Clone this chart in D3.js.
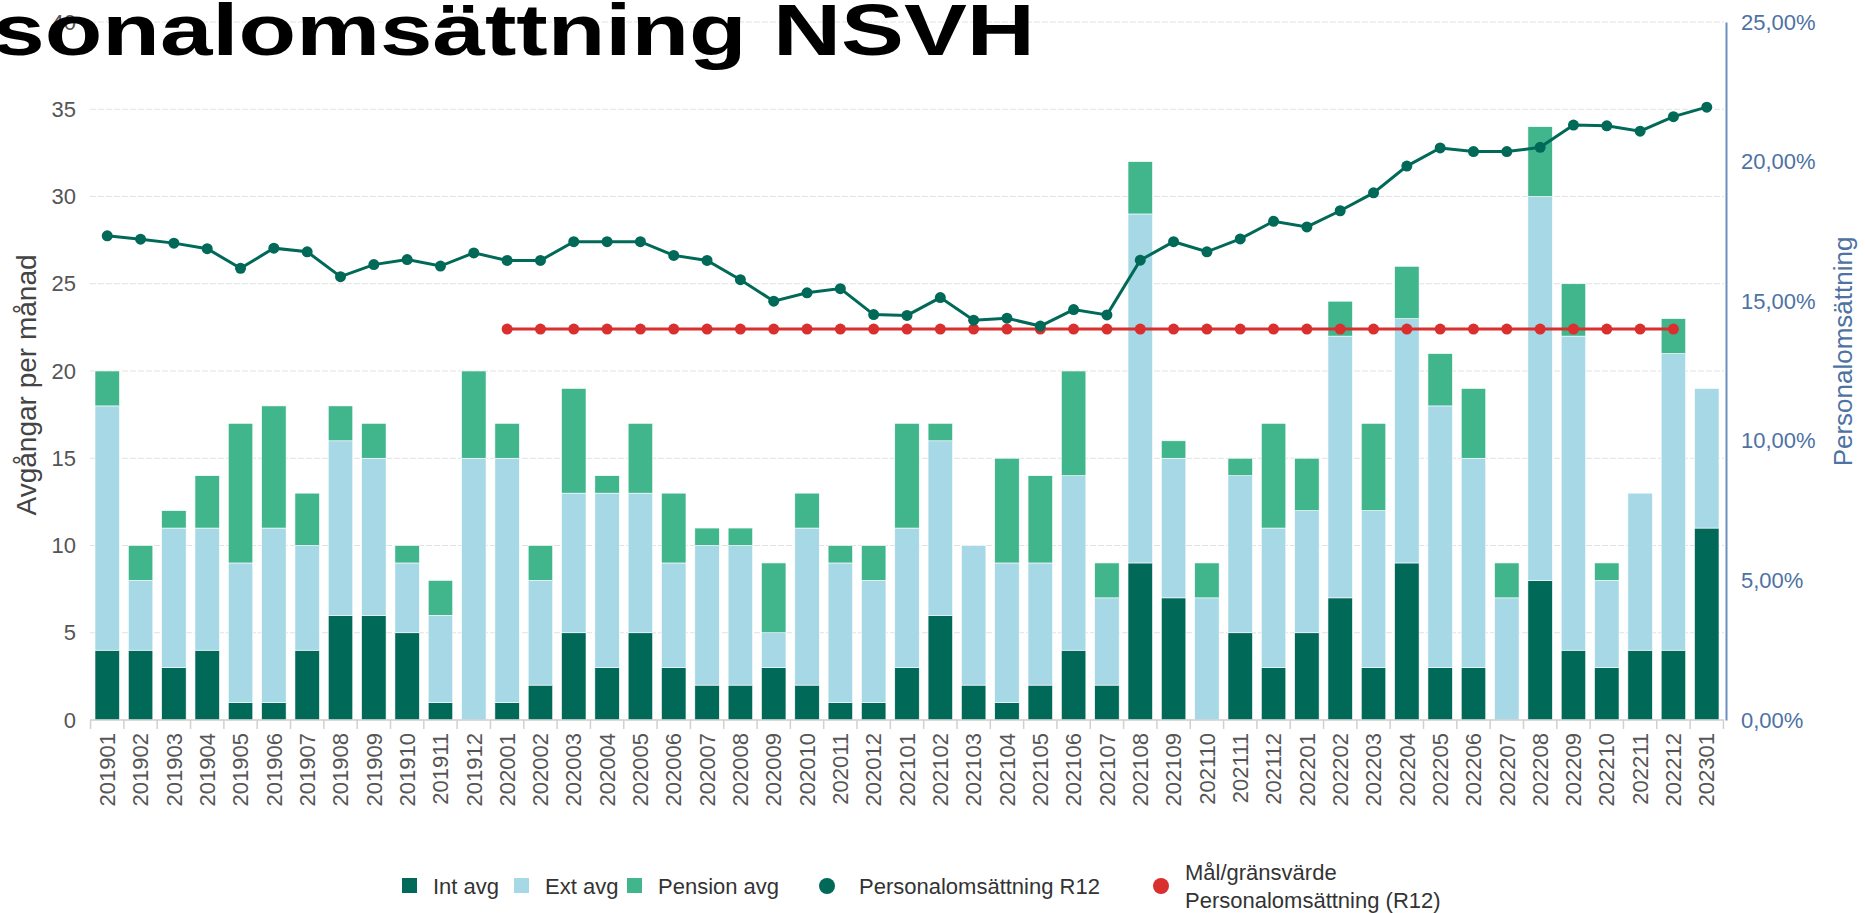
<!DOCTYPE html>
<html>
<head>
<meta charset="utf-8">
<title>Personalomsättning NSVH</title>
<style>
body { margin: 0; background: #fff; overflow: hidden; }
svg { display: block; font-family: "Liberation Sans", Arial, sans-serif; }
.grid line { stroke: #e2e2e2; stroke-dasharray: 6,2; }
</style>
</head>
<body>
<svg width="1865" height="913"></svg>
<script src="https://d3js.org/d3.v7.min.js"></script>
<script>
// data
var months = ["201901","201902","201903","201904","201905","201906","201907","201908","201909","201910","201911","201912",
  "202001","202002","202003","202004","202005","202006","202007","202008","202009","202010","202011","202012",
  "202101","202102","202103","202104","202105","202106","202107","202108","202109","202110","202111","202112",
  "202201","202202","202203","202204","202205","202206","202207","202208","202209","202210","202211","202212",
  "202301"];
var intAvg     = [4,4,3,4,1,1,4,6,6,5,1,0, 1,2,5,3,5,3,2,2,3,2,1,1, 3,6,2,1,2,4,2,9,7,0,5,3, 5,7,3,9,3,3,0,8,4,3,4,4, 11];
var extAvg     = [14,4,8,7,8,10,6,10,9,4,5,15, 14,6,8,10,8,6,8,8,2,9,8,7, 8,10,8,8,7,10,5,20,8,7,9,8, 7,15,9,14,15,12,7,22,18,5,9,17, 8];
var pensionAvg = [2,2,1,3,8,7,3,2,2,1,2,5, 2,2,6,1,4,4,1,1,4,2,1,2, 6,1,0,6,5,6,2,3,1,2,1,6, 3,2,5,3,3,4,2,4,3,1,0,2, 0];
var r12 = [17.34,17.22,17.08,16.88,16.18,16.90,16.77,15.88,16.31,16.49,16.26,16.73,
  16.46,16.46,17.13,17.13,17.13,16.64,16.46,15.77,15.00,15.30,15.45,14.52,
  14.49,15.13,14.32,14.39,14.11,14.70,14.51,16.47,17.13,16.77,17.23,17.86,
  17.66,18.24,18.88,19.84,20.49,20.36,20.36,20.51,21.31,21.28,21.09,21.61,
  21.95];
var target = [null,null,null,null,null,null,null,null,null,null,null,null,
  14,14,14,14,14,14,14,14,14,14,14,14,
  14,14,14,14,14,14,14,14,14,14,14,14,
  14,14,14,14,14,14,14,14,14,14,14,14,
  null];
var leftTicks = [0,5,10,15,20,25,30,35,40];
var rightTicks = [0,5,10,15,20,25];
var keys = ["int","ext","pension"];
var keyLabels = ["Int avg","Ext avg","Pension avg"];

var svg = d3.select("svg");
var plotLeft = 90, plotRight = 1724, plotTop = 22, plotBottom = 720;

var x = d3.scaleBand().domain(months).range([plotLeft, plotRight])
    .paddingInner(0.265).paddingOuter(0.15);
var y = d3.scaleLinear().domain([0, 40]).range([plotBottom, plotTop]);
var y2 = d3.scaleLinear().domain([0, 25]).range([plotBottom, plotTop]);
var color = d3.scaleOrdinal().domain(keys).range(["#006958", "#a6d8e6", "#41b68d"]);

var rows = months.map(function(m, i) {
  return {month: m, int: intAvg[i], ext: extAvg[i], pension: pensionAvg[i]};
});

// gridlines
svg.append("g").attr("class", "grid")
  .selectAll("line").data(leftTicks).enter().append("line")
    .attr("x1", plotLeft).attr("x2", plotRight)
    .attr("y1", function(d) { return y(d); })
    .attr("y2", function(d) { return y(d); });

// stacked bars
svg.append("g").selectAll("g")
  .data(d3.stack().keys(keys)(rows))
  .enter().append("g")
    .attr("fill", function(d) { return color(d.key); })
  .selectAll("rect").data(function(d) { return d; })
  .enter().append("rect")
    .attr("x", function(d) { return x(d.data.month); })
    .attr("y", function(d) { return y(d[1]); })
    .attr("height", function(d) { return y(d[0]) - y(d[1]); })
    .attr("width", x.bandwidth())
    .attr("stroke", "#fff").attr("stroke-width", 0.6);

// x axis
var gap = (x.step() - x.bandwidth()) / 2;
var lastEdge = x(months[months.length - 1]) + x.bandwidth() + gap;
svg.append("line")
  .attr("x1", plotLeft).attr("x2", plotRight).attr("y1", plotBottom).attr("y2", plotBottom)
  .attr("stroke", "#d0d0d0").attr("stroke-width", 1.5);
svg.append("g").selectAll("line")
  .data(months.concat(["end"])).enter().append("line")
    .attr("x1", function(d) { return d === "end" ? lastEdge : x(d) - gap; })
    .attr("x2", function(d) { return d === "end" ? lastEdge : x(d) - gap; })
    .attr("y1", plotBottom).attr("y2", plotBottom + 9)
    .attr("stroke", "#d0d0d0").attr("stroke-width", 1.5);

var xAxis = svg.append("g")
  .attr("transform", "translate(0," + plotBottom + ")")
  .call(d3.axisBottom(x).tickSize(0));
xAxis.select(".domain").remove();
xAxis.selectAll("text")
  .attr("transform", "rotate(-90)")
  .attr("x", -13).attr("y", 0).attr("dy", "0.35em")
  .style("text-anchor", "end")
  .attr("font-size", 22).attr("fill", "#555");

// left axis
var yAxis = svg.append("g")
  .attr("transform", "translate(" + plotLeft + ",0)")
  .call(d3.axisLeft(y).tickValues(leftTicks).tickSize(0).tickPadding(14));
yAxis.select(".domain").remove();
yAxis.selectAll("text").attr("font-size", 22).attr("fill", "#555");

svg.append("text")
  .attr("transform", "translate(26," + y(19.2) + ") rotate(-90)")
  .attr("text-anchor", "middle").attr("dy", "0.35em")
  .attr("font-size", 28).attr("fill", "#444")
  .text("Avgångar per månad");

// right axis
var y2Axis = svg.append("g")
  .attr("transform", "translate(1726,0)")
  .call(d3.axisRight(y2).tickValues(rightTicks).tickSize(0).tickSizeOuter(0).tickPadding(15)
    .tickFormat(function(d) { return d.toFixed(2).replace(".", ",") + "%"; }));
y2Axis.select(".domain").attr("stroke", "#6d8fbd").attr("stroke-width", 2);
y2Axis.selectAll("text").attr("font-size", 22).attr("fill", "#4d72a3");

svg.append("text")
  .attr("transform", "translate(1843," + y2(13.2) + ") rotate(-90)")
  .attr("text-anchor", "middle").attr("dy", "0.35em")
  .attr("font-size", 26).attr("fill", "#4d72a3")
  .text("Personalomsättning");

// lines
var cx = function(i) { return x(months[i]) + x.bandwidth() / 2; };

var line = d3.line()
  .defined(function(d) { return d != null; })
  .x(function(d, i) { return cx(i); })
  .y(function(d) { return y2(d); });

svg.append("path").datum(target)
  .attr("fill", "none").attr("stroke", "#d92f2f").attr("stroke-width", 3)
  .attr("d", line);
svg.append("g").selectAll("circle")
  .data(target.map(function(v, i) { return {v: v, i: i}; }).filter(function(d) { return d.v != null; }))
  .enter().append("circle")
    .attr("cx", function(d) { return cx(d.i); })
    .attr("cy", function(d) { return y2(d.v); })
    .attr("r", 5.5).attr("fill", "#d92f2f");

svg.append("path").datum(r12)
  .attr("fill", "none").attr("stroke", "#006958").attr("stroke-width", 3)
  .attr("d", line);
svg.append("g").selectAll("circle")
  .data(r12).enter().append("circle")
    .attr("cx", function(d, i) { return cx(i); })
    .attr("cy", function(d) { return y2(d); })
    .attr("r", 5.5).attr("fill", "#006958");

// legend (symbol left edges)
var legend = svg.append("g").attr("font-size", 22).attr("fill", "#333");
var ly = 886;
var legendX = [402, 514, 627, 819, 1153];
keys.forEach(function(k, i) {
  legend.append("rect").attr("x", legendX[i]).attr("y", ly - 8).attr("width", 15).attr("height", 15)
    .attr("fill", color(k));
  legend.append("text").attr("x", legendX[i] + 31).attr("y", ly).attr("dy", "0.35em").text(keyLabels[i]);
});
legend.append("circle").attr("cx", legendX[3] + 8).attr("cy", ly).attr("r", 8).attr("fill", "#006958");
legend.append("text").attr("x", legendX[3] + 40).attr("y", ly).attr("dy", "0.35em").text("Personalomsättning R12");
legend.append("circle").attr("cx", legendX[4] + 8).attr("cy", ly).attr("r", 8).attr("fill", "#d92f2f");
legend.append("text").attr("x", legendX[4] + 32).attr("y", ly - 14).attr("dy", "0.35em").text("Mål/gränsvärde");
legend.append("text").attr("x", legendX[4] + 32).attr("y", ly + 14).attr("dy", "0.35em").text("Personalomsättning (R12)");

// title, partly outside the left edge
svg.append("text")
  .attr("transform", "scale(1.31,1)")
  .attr("x", 790).attr("y", 55)
  .attr("text-anchor", "end")
  .attr("font-size", 72).attr("font-weight", "bold").attr("fill", "#000")
  .text("Personalomsättning NSVH");
</script>
</body>
</html>
